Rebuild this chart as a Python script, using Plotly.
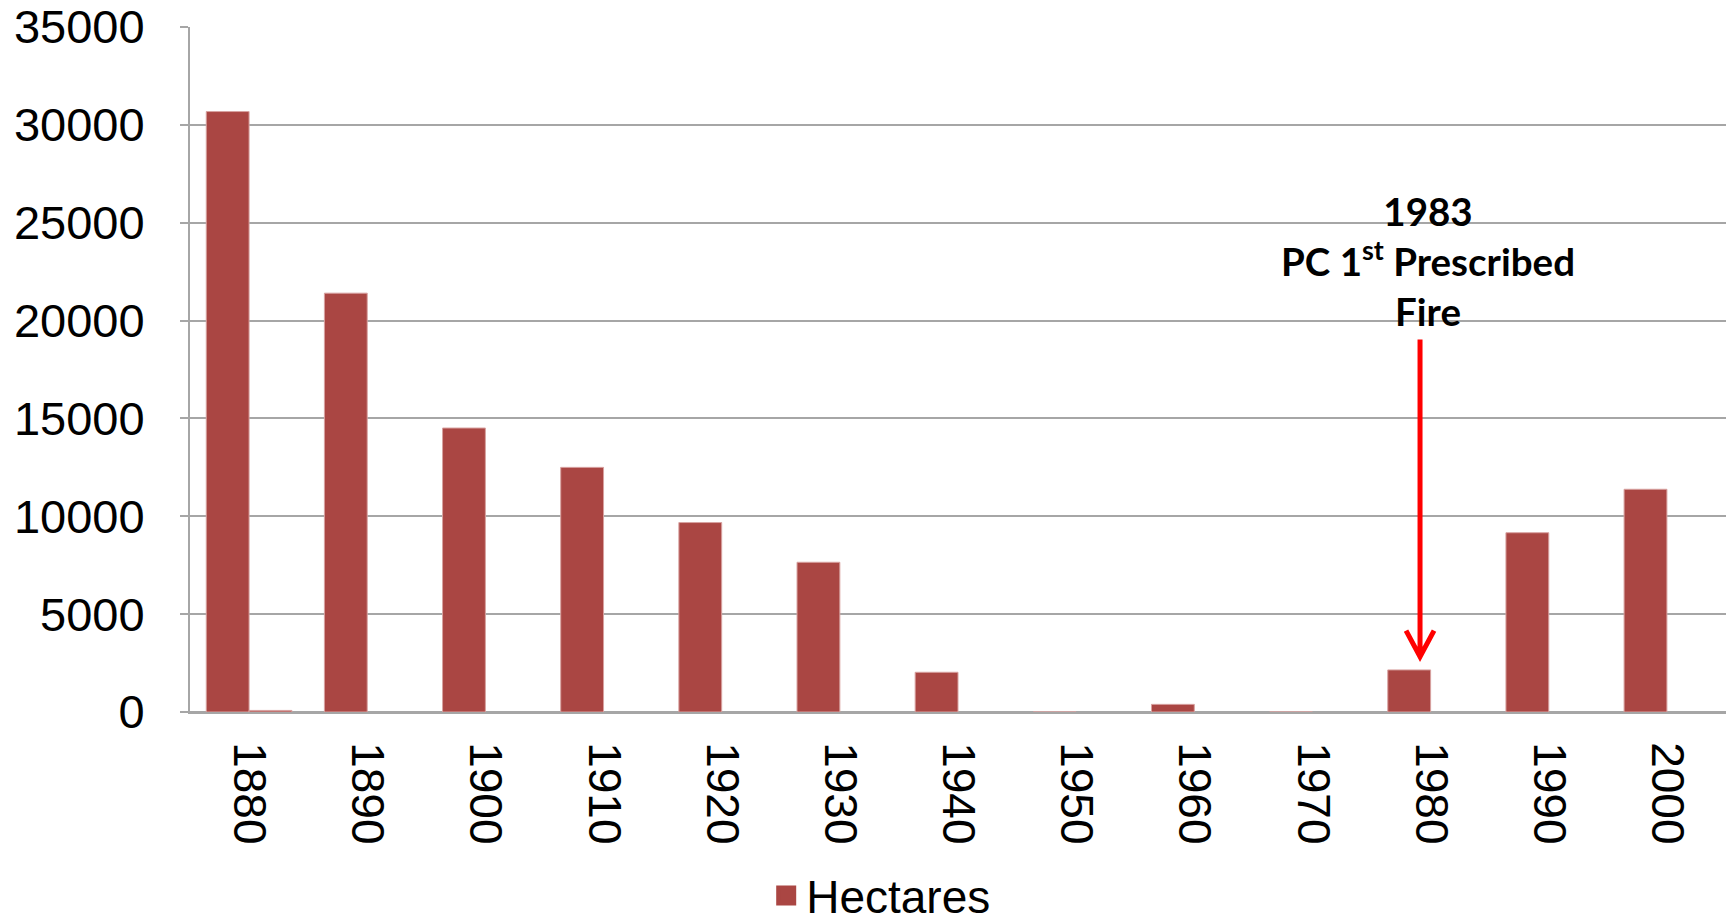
import plotly.graph_objects as go

decades = ["1880", "1890", "1900", "1910", "1920", "1930", "1940",
           "1950", "1960", "1970", "1980", "1990", "2000"]
hectares = [30680, 21400, 14510, 12500, 9680, 7650, 2030,
            0, 390, 0, 2150, 9160, 11380]
second_series = [80, None, None, None, None, None, None,
                 None, None, None, None, None, None]

bar_color = "#AA4643"
edge_color = "#D8A2A0"
grid_color = "#A6A6A6"
font_family = "Liberation Sans, Arial, sans-serif"

fig = go.Figure()
fig.add_trace(go.Bar(
    x=decades, y=hectares, name="Hectares", showlegend=False,
    legendgroup="h",
    marker=dict(color=bar_color, line=dict(color=edge_color, width=1)),
))
fig.add_trace(go.Bar(
    x=decades, y=second_series, name="series 2", showlegend=False,
    marker=dict(color=bar_color, line=dict(color=edge_color, width=1)),
))
# legend entry with a larger square swatch
fig.add_trace(go.Scatter(
    x=[None], y=[None], mode="markers", name="Hectares", legendgroup="h",
    marker=dict(symbol="square", size=16, color=bar_color,
                line=dict(color=bar_color, width=4)),
    hoverinfo="skip",
))

# annotation arrow (1983, PC 1st prescribed fire)
arrow_x = 0.8008      # paper fraction
arrow_tip_value = 2830
fig.add_shape(
    type="path", xref="paper", yref="y",
    xsizemode="pixel", ysizemode="pixel",
    xanchor=arrow_x, yanchor=arrow_tip_value,
    path="M0,317 L0,0 M-14,26 L0,0 L14,26",
    line=dict(color="#FF0000", width=5),
)
fig.add_annotation(
    xref="paper", yref="paper", x=0.806, y=0.659,
    xanchor="center", yanchor="middle", showarrow=False,
    text="<b>1983<br>PC 1<sup>st</sup> Prescribed<br>Fire</b>",
    font=dict(family="Lato, Open Sans, sans-serif", size=38.5, color="black"),
    align="center",
)

fig.update_layout(
    width=1729, height=919,
    margin=dict(l=190, r=3, t=27, b=207, autoexpand=False),
    paper_bgcolor="white", plot_bgcolor="white",
    barmode="group", bargap=0.275, bargroupgap=0,
    font=dict(family=font_family, size=46, color="black"),
    showlegend=True,
    legend=dict(orientation="h", x=0.45, y=-0.268, xanchor="center",
                yanchor="middle", font=dict(size=46), bgcolor="rgba(0,0,0,0)",
                itemwidth=30),
)
fig.update_xaxes(
    type="category", tickangle=90, showline=True, linecolor=grid_color,
    linewidth=2, ticks="", showgrid=False, ticklabelstandoff=19,
    tickfont=dict(size=46), automargin=False,
)
fig.update_yaxes(
    range=[0, 35000], dtick=5000, tickformat="d",
    showgrid=True, gridcolor=grid_color, gridwidth=1.5,
    showline=True, linecolor=grid_color, linewidth=2,
    zeroline=True, zerolinecolor=grid_color, zerolinewidth=2,
    ticks="outside", ticklen=8, tickcolor=grid_color, tickwidth=1.5,
    ticklabelstandoff=26, tickfont=dict(size=47), automargin=False,
)

fig.write_html(
    "out.html",
    config={"displayModeBar": False},
    post_script="document.body.style.margin='0';document.body.style.overflow='hidden';",
)
